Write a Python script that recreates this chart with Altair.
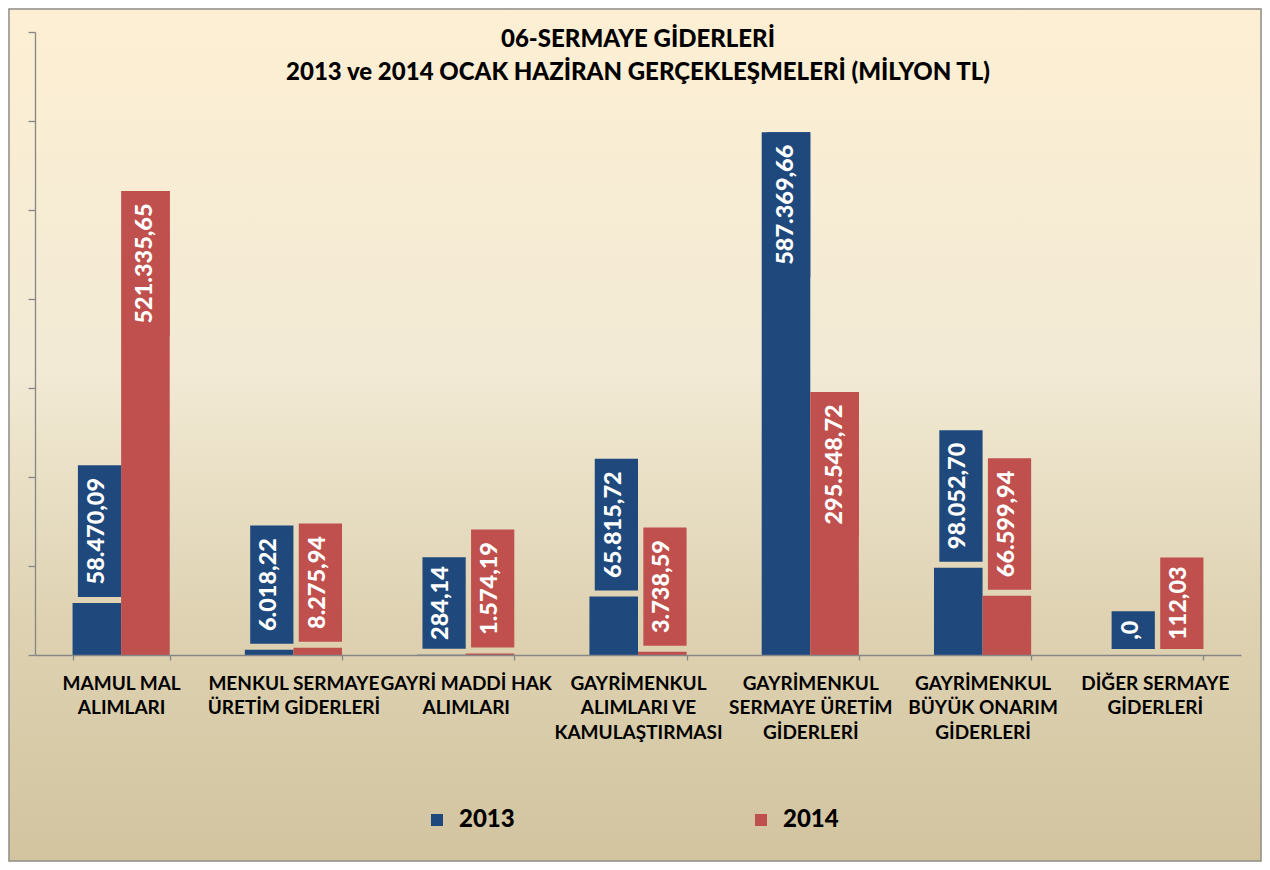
import altair as alt
import pandas as pd

categories = [
    "MAMUL MAL\nALIMLARI",
    "MENKUL SERMAYE\nÜRETİM GİDERLERİ",
    "GAYRİ MADDİ HAK\nALIMLARI",
    "GAYRİMENKUL\nALIMLARI VE\nKAMULAŞTIRMASI",
    "GAYRİMENKUL\nSERMAYE ÜRETİM\nGİDERLERİ",
    "GAYRİMENKUL\nBÜYÜK ONARIM\nGİDERLERİ",
    "DİĞER SERMAYE\nGİDERLERİ",
]
values_2013 = [58470.09, 6018.22, 284.14, 65815.72, 587369.66, 98052.70, 0.0]
values_2014 = [521335.65, 8275.94, 1574.19, 3738.59, 295548.72, 66599.94, 112.03]
labels_2013 = ["58.470,09", "6.018,22", "284,14", "65.815,72", "587.369,66", "98.052,70", ",0"]
labels_2014 = ["521.335,65", "8.275,94", "1.574,19", "3.738,59", "295.548,72", "66.599,94", "112,03"]
series = ["2013", "2014"]
colors = ["#1F497D", "#C0504D"]
title_lines = ["06-SERMAYE GİDERLERİ", "2013 ve 2014 OCAK HAZİRAN GERÇEKLEŞMELERİ (MİLYON TL)"]
y_ticks = [0, 100000, 200000, 300000, 400000, 500000, 600000, 700000]

W, H = 1206, 623
PAD = {"left": 27, "top": 24, "right": 21, "bottom": 207}
Y_MAX = y_ticks[-1]
UPP = Y_MAX / H  # data units per pixel
FONT = "Lato"

rows = []
for i, c in enumerate(categories):
    rows.append({"cat": c, "series": series[0], "value": values_2013[i], "label": labels_2013[i]})
    rows.append({"cat": c, "series": series[1], "value": values_2014[i], "label": labels_2014[i]})
df = pd.DataFrame(rows)

x_enc = alt.X("cat:N", sort=categories,
              scale=alt.Scale(paddingInner=0.436, paddingOuter=0.218),
              axis=alt.Axis(title=None, labelAngle=0, tickBand="extent",
                            labelExpr="split(datum.label, '\\n')",
                            labelFont=FONT, labelFontWeight="bold", labelFontSize=19,
                            labelColor="#000000", labelLineHeight=24.5, labelBaseline="top",
                            labelPadding=14, labelLimit=0, tickSize=5,
                            domainColor="#868686", tickColor="#868686",
                            domainWidth=1.3, tickWidth=1.3, zindex=1))
xo_enc = alt.XOffset("series:N", sort=series)
color_enc = alt.Color("series:N", sort=series,
                      scale=alt.Scale(domain=series, range=colors),
                      legend=alt.Legend(orient="none", legendX=390, legendY=776,
                                        direction="horizontal", title=None,
                                        symbolType="square", symbolSize=144,
                                        symbolStrokeWidth=0,
                                        labelFont=FONT, labelFontSize=24,
                                        labelFontWeight=900, labelColor="#000000",
                                        columnPadding=234, labelOffset=10, padding=0))
y_scale = alt.Scale(domain=[0, Y_MAX], nice=False)

bg = alt.Chart(pd.DataFrame({"k": [0]})).mark_rect(
    fill=alt.Gradient(gradient="linear", x1=0, y1=0, x2=0, y2=1,
                      stops=[alt.GradientStop(offset=0, color="#FDEFD3"),
                             alt.GradientStop(offset=0.42, color="#F2EAD5"),
                             alt.GradientStop(offset=0.72, color="#DED2B2"),
                             alt.GradientStop(offset=1, color="#D2C49F")]),
    stroke="#8E8E8E", strokeWidth=1.5,
).encode(
    x=alt.value(-PAD["left"] + 1), x2=alt.value(W + PAD["right"] - 1),
    y=alt.value(-PAD["top"] + 1), y2=alt.value(H + PAD["bottom"] - 1),
)

bars = alt.Chart(df).mark_bar().encode(
    x=x_enc,
    xOffset=xo_enc,
    y=alt.Y("value:Q", scale=y_scale,
            axis=alt.Axis(title=None, labels=False, grid=False, values=y_ticks,
                          tickSize=7, domainColor="#868686", tickColor="#868686",
                          domainWidth=1.3, tickWidth=1.3, zindex=1)),
    color=color_enc,
)

base_lab = alt.Chart(df).transform_calculate(
    h=f"(13.4 * length(datum.label) + 11) * {UPP}",
).transform_calculate(
    hi=f"datum.value > 200000 ? datum.value : datum.value + 6 * {UPP} + datum.h",
).transform_calculate(
    lo="datum.hi - datum.h",
).transform_calculate(
    mid="(datum.hi + datum.lo) / 2",
)

boxes = base_lab.mark_bar(width=alt.RelativeBandSize(0.89)).encode(
    x=alt.X("cat:N", sort=categories),
    xOffset=xo_enc,
    y=alt.Y("lo:Q", scale=y_scale),
    y2="hi:Q",
    color=alt.Color("series:N", sort=series, legend=None),
)

texts = base_lab.mark_text(angle=270, align="center", baseline="middle",
                           font=FONT, fontWeight=900, fontSize=23.5,
                           color="#FFFFFF").encode(
    x=alt.X("cat:N", sort=categories),
    xOffset=xo_enc,
    y=alt.Y("mid:Q", scale=y_scale),
    text="label:N",
)

chart = alt.layer(bg, bars, boxes, texts).properties(
    width=W, height=H,
    padding=PAD,
    autosize="none",
    title=alt.TitleParams(text=title_lines, font=FONT, fontSize=24, fontWeight=900,
                          color="#000000", anchor="middle", orient="top",
                          baseline="middle", offset=0, dy=89, lineHeight=33),
).configure_view(stroke=None).configure(background="#FDEFD3")

chart.save("out.html", embed_options={"renderer": "svg", "actions": False})
